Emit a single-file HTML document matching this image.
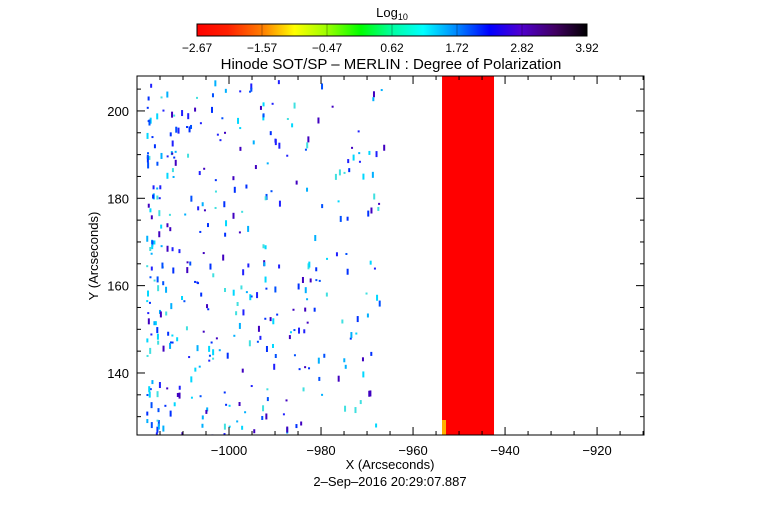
<!DOCTYPE html>
<html><head><meta charset="utf-8"><style>
body{margin:0;background:#fff;}
svg text{font-family:"Liberation Sans",sans-serif;fill:#000;}
</style></head><body>
<svg id="c" width="782" height="512" xmlns="http://www.w3.org/2000/svg">
<defs>
<linearGradient id="cb" x1="0" x2="1" y1="0" y2="0">
<stop offset="0" stop-color="#ff0000"/><stop offset="0.08" stop-color="#ff2000"/><stop offset="0.17" stop-color="#ff8000"/>
<stop offset="0.25" stop-color="#ffff00"/><stop offset="0.33" stop-color="#a0ff00"/><stop offset="0.42" stop-color="#00ff00"/>
<stop offset="0.5" stop-color="#00ffa0"/><stop offset="0.58" stop-color="#00ffff"/><stop offset="0.67" stop-color="#0080ff"/>
<stop offset="0.75" stop-color="#0000ff"/><stop offset="0.83" stop-color="#5000d0"/><stop offset="0.92" stop-color="#400060"/>
<stop offset="1" stop-color="#000000"/></linearGradient>
<clipPath id="pc"><rect x="137" y="76" width="507" height="359"/></clipPath>
</defs>
<text x="392" y="17" font-size="13" text-anchor="middle">Log<tspan font-size="9" dy="3">10</tspan></text>
<rect x="197" y="24" width="390" height="12" fill="url(#cb)" stroke="#000"/>
<g id="cbt"></g>
<text x="391" y="69" font-size="15" text-anchor="middle">Hinode SOT/SP – MERLIN : Degree of Polarization</text>
<g id="marks" clip-path="url(#pc)"></g>
<rect x="137" y="76" width="507" height="359" fill="none" stroke="#000"/>
<g id="axes"></g>
<text x="390" y="469" font-size="13" text-anchor="middle">X (Arcseconds)</text>
<text x="390" y="486" font-size="13" text-anchor="middle">2–Sep–2016 20:29:07.887</text>
<text transform="translate(98,256) rotate(-90)" font-size="13" text-anchor="middle">Y (Arcseconds)</text>
</svg>
<script>
const cbLabels=["-2.67","-1.57","-0.47","0.62","1.72","2.82","3.92"];
const xTicks=[-1000,-980,-960,-940,-920];
const yTicks=[140,160,180,200];
const bandX=[-953.7,-942.4];
const xDomain=[-1020,-909.8], yDomain=[125.8,208];
const NS="http://www.w3.org/2000/svg";
const X=v=>137+(v-xDomain[0])/(xDomain[1]-xDomain[0])*507;
const Y=v=>435-(v-yDomain[0])/(yDomain[1]-yDomain[0])*359;
function mk(t,a,p){const e=document.createElementNS(NS,t);for(const k in a)e.setAttribute(k,a[k]);p.appendChild(e);return e;}
const cbt=document.getElementById('cbt');
cbLabels.forEach((l,i)=>{const x=197+i*65;
const tk=mk('line',{x1:x,x2:x,y1:24,y2:36,stroke:'#000','stroke-opacity':0.3},cbt);


const t=mk('text',{x:x,y:52,'font-size':12,'text-anchor':'middle'},cbt);t.textContent=l.replace('-','−');

});
const ax=document.getElementById('axes');
for(let v=-1015;v<=-910;v+=5){const x=X(v),L=(v%20===0)?8:4;
const a=mk('line',{x1:x,x2:x,y1:435,y2:435-L,stroke:'#000'},ax);


mk('line',{x1:x,x2:x,y1:76,y2:76+L,stroke:'#000'},ax);}
xTicks.forEach(v=>{const t=mk('text',{x:X(v),y:455,'font-size':13,'text-anchor':'middle'},ax);t.textContent=String(v).replace('-','−');

});
for(let v=130;v<=205;v+=5){const y=Y(v),L=(v%20===0)?8:4;
const a=mk('line',{x1:137,x2:137+L,y1:y,y2:y,stroke:'#000'},ax);


mk('line',{x1:644,x2:644-L,y1:y,y2:y,stroke:'#000'},ax);}
yTicks.forEach(v=>{const t=mk('text',{x:129,y:Y(v)+5,'font-size':13,'text-anchor':'end'},ax);t.textContent=v;

});
const m=document.getElementById('marks');
const band=mk('rect',{x:X(bandX[0]),y:76,width:X(bandX[1])-X(bandX[0]),height:359,fill:'#ff0000'},m);


mk('rect',{x:X(bandX[0]),y:420,width:4,height:15,fill:'#ffb000'},m);
// speckle pixels (deterministic pseudo-noise texture)
let s=12345;const r=()=>{s=(s*1103515245+12345)%2147483648;return s/2147483648;};
const cols=['#0030ff','#0050ff','#00d8ff','#40e0e0','#4000c0','#2020ff','#00b0ff'];
for(let i=0;i<380;i++){const u=r();const xv=-1018+Math.pow(u,1.8)*52;const yv=125.8+r()*82;
const c=cols[Math.floor(r()*cols.length)];const h=2+Math.floor(r()*3)*2;
const d=mk('rect',{x:X(xv),y:Y(yv),width:2,height:h,fill:c},m);

}
</script>
</body></html>
